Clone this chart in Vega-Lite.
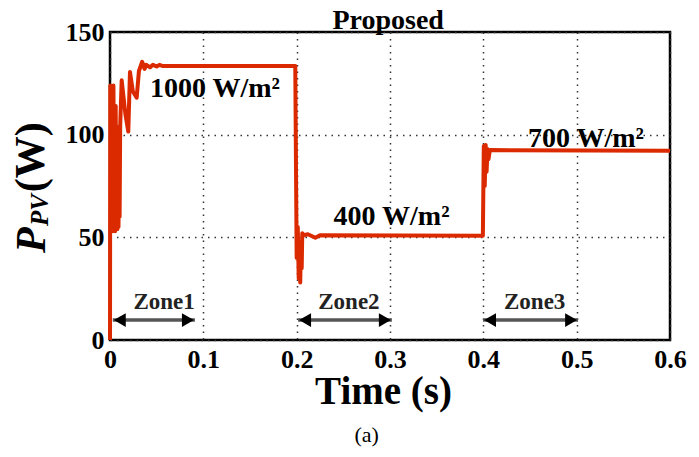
{
  "$schema": "https://vega.github.io/schema/vega-lite/v6.json",
  "width": 560,
  "height": 308,
  "autosize": {"type": "none"},
  "padding": {"left": 110, "top": 32, "right": 29, "bottom": 117},
  "background": "white",
  "config": {
    "font": "Liberation Serif",
    "view": {"stroke": "black", "strokeWidth": 2.5},
    "axis": {
      "labelFont": "Liberation Serif",
      "labelFontWeight": "bold",
      "labelFontSize": 26,
      "labelColor": "black",
      "ticks": false,
      "domain": false,
      "grid": true,
      "gridColor": "#333333",
      "gridDash": [1.5, 5],
      "gridWidth": 1.5,
      "gridOpacity": 1
    }
  },
  "datasets": {
    "pv": [
      {"t": 0, "p": 0},
      {"t": 0.0003, "p": 124},
      {"t": 0.0008, "p": 62},
      {"t": 0.0013, "p": 122},
      {"t": 0.0019, "p": 55},
      {"t": 0.0025, "p": 118},
      {"t": 0.0031, "p": 53},
      {"t": 0.0037, "p": 124},
      {"t": 0.0043, "p": 58},
      {"t": 0.0049, "p": 112},
      {"t": 0.0055, "p": 53},
      {"t": 0.0061, "p": 114},
      {"t": 0.0067, "p": 56},
      {"t": 0.0073, "p": 104},
      {"t": 0.0079, "p": 54},
      {"t": 0.0085, "p": 100},
      {"t": 0.0091, "p": 55},
      {"t": 0.0097, "p": 96},
      {"t": 0.0103, "p": 60},
      {"t": 0.0109, "p": 104},
      {"t": 0.0125, "p": 126.5},
      {"t": 0.0165, "p": 110},
      {"t": 0.0196, "p": 101.5},
      {"t": 0.0214, "p": 130.5},
      {"t": 0.0245, "p": 121},
      {"t": 0.0286, "p": 118},
      {"t": 0.031, "p": 131},
      {"t": 0.0345, "p": 135.5},
      {"t": 0.037, "p": 132},
      {"t": 0.039, "p": 134},
      {"t": 0.043, "p": 132.8},
      {"t": 0.046, "p": 134},
      {"t": 0.05, "p": 133.2},
      {"t": 0.053, "p": 134},
      {"t": 0.056, "p": 133.5},
      {"t": 0.1985, "p": 133.5},
      {"t": 0.2, "p": 40},
      {"t": 0.2012, "p": 55},
      {"t": 0.2022, "p": 30},
      {"t": 0.203, "p": 48},
      {"t": 0.2038, "p": 28},
      {"t": 0.2046, "p": 45},
      {"t": 0.2054, "p": 35},
      {"t": 0.206, "p": 52},
      {"t": 0.2075, "p": 51},
      {"t": 0.212, "p": 51.5},
      {"t": 0.22, "p": 49.8},
      {"t": 0.225, "p": 51},
      {"t": 0.3995, "p": 50.8},
      {"t": 0.4005, "p": 94.5},
      {"t": 0.4015, "p": 75},
      {"t": 0.4025, "p": 95},
      {"t": 0.4035, "p": 82},
      {"t": 0.4045, "p": 93},
      {"t": 0.4055, "p": 88},
      {"t": 0.407, "p": 92.5},
      {"t": 0.6, "p": 92.2}
    ],
    "notes": [
      {"label": "1000 W/m²", "t": 0.1125, "p": 122},
      {"label": "400 W/m²", "t": 0.3017, "p": 60},
      {"label": "700 W/m²", "t": 0.51, "p": 98}
    ],
    "zones": [
      {"label": "Zone1", "t": 0.003, "t2": 0.091, "p": 9.7, "tz": 0.058, "pz": 18.5},
      {"label": "Zone2", "t": 0.2015, "t2": 0.302, "p": 9.7, "tz": 0.256, "pz": 18.5},
      {"label": "Zone3", "t": 0.3997, "t2": 0.5015, "p": 9.7, "tz": 0.455, "pz": 18.5}
    ],
    "ylab": [
      {"part": "P", "t": -0.0696, "p": 42.4},
      {"part": "PV", "t": -0.0664, "p": 55.5},
      {"part": "(W)", "t": -0.0707, "p": 72}
    ],
    "heading": [
      {"label": "Proposed", "t": 0.298, "p": 151.5}
    ],
    "caption": [
      {"label": "(a)", "t": 0.275, "p": -46.3}
    ]
  },
  "encoding": {
    "x": {
      "field": "t",
      "type": "quantitative",
      "scale": {"domain": [0, 0.6], "nice": false, "zero": false},
      "axis": {
        "values": [0, 0.1, 0.2, 0.3, 0.4, 0.5, 0.6],
        "format": "~g",
        "labelPadding": 6,
        "labelFlush": false,
        "title": "Time (s)",
        "titleFont": "Liberation Serif",
        "titleFontSize": 39,
        "titleFontWeight": "bold",
        "titleColor": "black",
        "titleBaseline": "alphabetic",
        "titleAlign": "center",
        "titleAnchor": "start",
        "titleX": 273,
        "titleY": 63
      }
    },
    "y": {
      "field": "p",
      "type": "quantitative",
      "scale": {"domain": [0, 150], "nice": false, "zero": false},
      "axis": {
        "values": [0, 50, 100, 150],
        "labelPadding": 6,
        "labelFlush": false,
        "title": null
      }
    }
  },
  "layer": [
    {
      "data": {"name": "pv"},
      "mark": {"type": "line", "color": "#dc2a00", "strokeWidth": 4, "strokeJoin": "round"}
    },
    {
      "data": {"name": "zones"},
      "mark": {"type": "rule", "color": "#555555", "strokeWidth": 3.5},
      "encoding": {"x2": {"field": "t2"}}
    },
    {
      "data": {"name": "zones"},
      "mark": {"type": "point", "shape": "triangle-left", "filled": true, "color": "black", "size": 190, "opacity": 1, "xOffset": 7}
    },
    {
      "data": {"name": "zones"},
      "mark": {"type": "point", "shape": "triangle-right", "filled": true, "color": "black", "size": 190, "opacity": 1, "xOffset": -7},
      "encoding": {"x": {"field": "t2", "type": "quantitative"}}
    },
    {
      "data": {"name": "zones"},
      "mark": {"type": "text", "font": "Liberation Serif", "fontSize": 23, "fontWeight": "bold", "color": "#222222", "baseline": "middle", "align": "center"},
      "encoding": {
        "x": {"field": "tz", "type": "quantitative"},
        "y": {"field": "pz", "type": "quantitative"},
        "text": {"field": "label"}
      }
    },
    {
      "data": {"name": "notes"},
      "mark": {"type": "text", "font": "Liberation Serif", "fontSize": 28, "fontWeight": "bold", "color": "black", "baseline": "middle", "align": "center"},
      "encoding": {"text": {"field": "label"}}
    },
    {
      "data": {"name": "heading"},
      "mark": {"type": "text", "font": "Liberation Serif", "fontSize": 28, "fontWeight": "bold", "color": "black", "baseline": "alphabetic", "align": "center"},
      "encoding": {"text": {"field": "label"}}
    },
    {
      "data": {"name": "ylab"},
      "transform": [{"filter": "datum.part === 'P'"}],
      "mark": {"type": "text", "font": "Liberation Serif", "fontSize": 42, "fontWeight": "bold", "fontStyle": "italic", "color": "black", "angle": 270, "align": "left", "baseline": "alphabetic"},
      "encoding": {"text": {"field": "part"}}
    },
    {
      "data": {"name": "ylab"},
      "transform": [{"filter": "datum.part === 'PV'"}],
      "mark": {"type": "text", "font": "Liberation Serif", "fontSize": 25, "fontWeight": "bold", "fontStyle": "italic", "color": "black", "angle": 270, "align": "left", "baseline": "alphabetic"},
      "encoding": {"text": {"field": "part"}}
    },
    {
      "data": {"name": "ylab"},
      "transform": [{"filter": "datum.part === '(W)'"}],
      "mark": {"type": "text", "font": "Liberation Serif", "fontSize": 42, "fontWeight": "bold", "color": "black", "angle": 270, "align": "left", "baseline": "alphabetic"},
      "encoding": {"text": {"field": "part"}}
    },
    {
      "data": {"name": "caption"},
      "mark": {"type": "text", "font": "Liberation Serif", "fontSize": 22, "color": "black", "baseline": "middle", "align": "center"},
      "encoding": {"text": {"field": "label"}}
    }
  ]
}
